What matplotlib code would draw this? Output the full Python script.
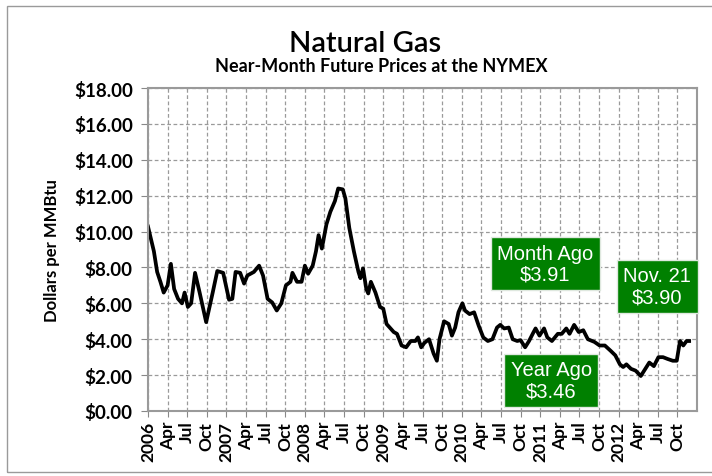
import matplotlib.pyplot as plt
from matplotlib.patches import Rectangle

# months since Jan 2006 and near-month price ($/MMBtu)
months = [0.0, 0.9, 1.4, 1.9, 2.4, 3.0, 3.5, 4.0, 4.6, 5.2, 5.6, 6.1, 6.6, 7.2, 7.9,
          8.9, 9.9, 10.6, 11.5, 12.4, 12.9, 13.4, 14.1, 14.7, 15.2, 16.2, 17.0, 17.6,
          18.3, 19.0, 19.7, 20.4, 21.1, 21.8, 22.1, 22.8, 23.5, 24.0, 24.5, 25.2, 25.7,
          26.1, 26.6, 27.3, 27.9, 28.6, 29.1, 29.8, 30.2, 30.8, 31.5, 32.2, 32.5, 32.9,
          33.4, 33.7, 34.1, 34.8, 35.5, 36.0, 36.5, 37.1, 37.6, 38.1, 38.8, 39.5, 40.2,
          40.9, 41.3, 41.8, 42.3, 43.0, 43.7, 44.2, 44.6, 45.3, 46.0, 46.5, 47.0, 47.5,
          48.1, 48.5, 49.2, 49.9, 50.6, 51.3, 52.0, 52.7, 53.4, 53.9, 54.5, 55.2, 55.8,
          56.5, 57.0, 57.7, 58.3, 59.0, 59.3, 59.9, 60.6, 61.1, 61.8, 62.7, 63.3, 64.0,
          64.5, 65.2, 65.9, 66.6, 67.3, 68.3, 69.1, 69.9, 70.8, 71.5, 72.2, 72.7, 73.2,
          73.9, 74.6, 75.4, 76.1, 76.7, 77.4, 78.1, 78.8, 79.5, 80.3, 80.9, 81.4, 81.9,
          82.4, 82.8]
prices = [10.28, 8.9, 7.75, 7.2, 6.6, 7.0, 8.2, 6.8, 6.25, 6.0, 6.6, 5.8, 6.0, 7.7, 6.6,
          4.95, 6.6, 7.8, 7.7, 6.2, 6.25, 7.75, 7.7, 7.1, 7.55, 7.75, 8.1, 7.55,
          6.25, 6.05, 5.6, 6.0, 7.0, 7.2, 7.7, 7.2, 7.2, 8.1, 7.65, 8.1, 8.9,
          9.8, 9.05, 10.4, 11.1, 11.7, 12.4, 12.35, 11.85, 10.2, 8.9, 7.75, 7.4, 7.95,
          6.8, 6.55, 7.2, 6.6, 5.8, 5.7, 4.85, 4.6, 4.4, 4.3, 3.65, 3.55, 3.9,
          3.9, 4.1, 3.55, 3.8, 4.0, 3.2, 2.8, 4.0, 5.0, 4.85, 4.2, 4.65, 5.5,
          6.0, 5.6, 5.4, 5.5, 4.75, 4.1, 3.9, 4.0, 4.65, 4.8, 4.6, 4.65, 4.0,
          3.9, 3.95, 3.55, 3.9, 4.4, 4.6, 4.2, 4.6, 4.1, 3.9, 4.3, 4.3, 4.6,
          4.3, 4.8, 4.4, 4.5, 4.0, 3.85, 3.65, 3.65, 3.35, 3.1, 2.6, 2.45, 2.6,
          2.35, 2.25, 1.95, 2.35, 2.7, 2.5, 3.0, 3.0, 2.9, 2.8, 2.8, 3.9, 3.65,
          3.9, 3.9]

quarter_labels = []
for year in range(2006, 2013):
    quarter_labels += [str(year), "Apr", "Jul", "Oct"]

callouts = [("Month Ago\n$3.91", 60.8, 8.2),
            ("Nov. 21\n$3.90", 77.9, 6.95),
            ("Year Ago\n$3.46", 61.7, 1.7)]

plt.rcParams["font.family"] = ["Lato", "DejaVu Sans"]

fig = plt.figure(figsize=(7.12, 4.77), dpi=100)
fig.patches.append(Rectangle((7 / 712, 4 / 477), 710 / 712, 466 / 477,
                             transform=fig.transFigure, fill=False,
                             edgecolor="#9a9a9a", linewidth=1.0))

ax = fig.add_axes([148 / 712, 65 / 477, 549 / 712, 323 / 477])
ax.plot(months, prices, color="black", linewidth=2.7, solid_joinstyle="round")

ax.set_xlim(0, 84)
ax.set_ylim(0, 18)
ax.set_xticks(range(0, 84, 3))
ax.set_xticklabels(quarter_labels, rotation=90, fontsize=12.5, fontweight="bold")
ax.set_yticks(range(0, 19, 2))
ax.set_yticklabels([f"${v:.2f}" for v in range(0, 19, 2)], fontsize=13.5,
                   fontweight="bold")
ax.set_ylabel("Dollars per MMBtu", fontsize=12, fontweight="bold", labelpad=10)
ax.tick_params(axis="y", direction="out", length=5, color="#888888", pad=6)
ax.tick_params(axis="x", direction="out", length=4, color="#888888", pad=3)
ax.grid(True, color="#9a9a9a", linestyle=(0, (3, 2)), linewidth=0.9)
for side in ax.spines.values():
    side.set_color("#9a9a9a")
    side.set_linewidth(1.5)

for text, x, y in callouts:
    ax.text(x, y, text, ha="center", va="center", color="white", fontsize=14.5,
            family="Liberation Sans", linespacing=1.15,
            bbox=dict(boxstyle="square,pad=0.32", facecolor="#008000",
                      edgecolor="#dfe8df", linewidth=1))

fig.text(365 / 712, 1 - 44 / 477, "Natural Gas", ha="center", va="center",
         fontsize=21, fontweight="semibold")
fig.text(381 / 712, 1 - 67 / 477, "Near-Month Future Prices at the NYMEX",
         ha="center", va="center", fontsize=13, fontweight="bold")

fig.savefig("out.png", dpi=100)
